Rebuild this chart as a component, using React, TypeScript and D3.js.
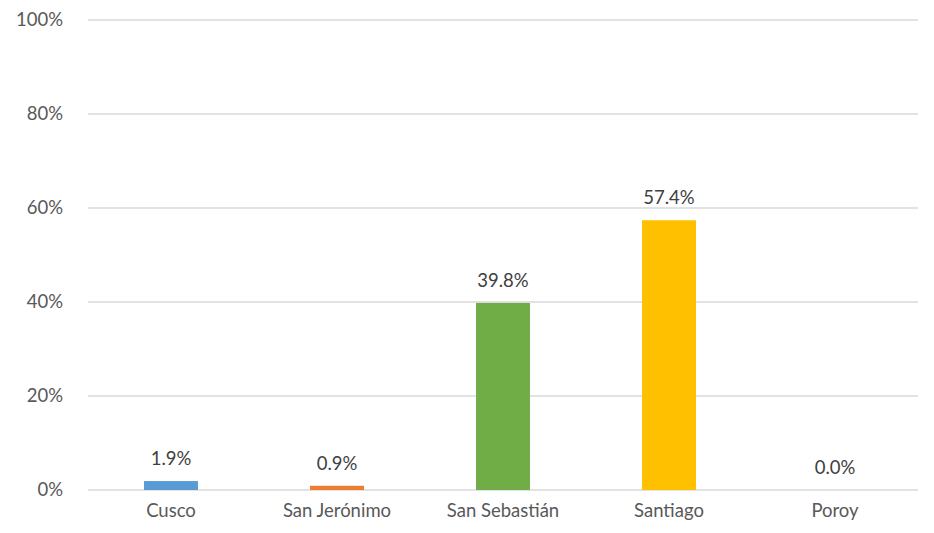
import React from "react";
import * as d3 from "d3";

const categories = ["Cusco", "San Jerónimo", "San Sebastián", "Santiago", "Poroy"];
const values = [1.9, 0.9, 39.8, 57.4, 0.0];
const colors = ["#5B9BD5", "#ED7D31", "#70AD47", "#FFC000", "#4472C4"];
const yTicks = [0, 20, 40, 60, 80, 100];

const W = 934;
const H = 533;
const FONT = "Lato, Carlito, Calibri, 'Open Sans', sans-serif";
const FS = 18.5;

export default function App() {
  const x = d3.scaleBand<string>().domain(categories).range([88, 918]).paddingInner(0).paddingOuter(0);
  const y = d3.scaleLinear().domain([0, 100]).range([490, 20]);
  const bw = x.bandwidth() * 0.325;

  return (
    <svg width={W} height={H} style={{ position: "absolute", left: 0, top: 0, background: "#fff" }}>
      <rect width={W} height={H} fill="#fff" />
      {yTicks.map((t) => (
        <g key={t}>
          <line x1={88} x2={918} y1={y(t)} y2={y(t)} stroke="#D9D9D9" strokeWidth={1.3} />
          <text x={63} y={y(t)} dy="0.35em" textAnchor="end" fontFamily={FONT} fontSize={FS} fill="#595959">
            {t}%
          </text>
        </g>
      ))}
      {categories.map((c, i) => {
        const cx = (x(c) ?? 0) + x.bandwidth() / 2;
        const top = y(values[i]);
        return (
          <g key={c}>
            <rect x={cx - bw / 2} y={top} width={bw} height={y(0) - top} fill={colors[i]} />
            <text x={cx} y={top - 16} textAnchor="middle" fontFamily={FONT} fontSize={FS} fill="#404040">
              {values[i].toFixed(1)}%
            </text>
            <text x={cx} y={517} textAnchor="middle" fontFamily={FONT} fontSize={FS} fill="#595959">
              {c}
            </text>
          </g>
        );
      })}
    </svg>
  );
}
